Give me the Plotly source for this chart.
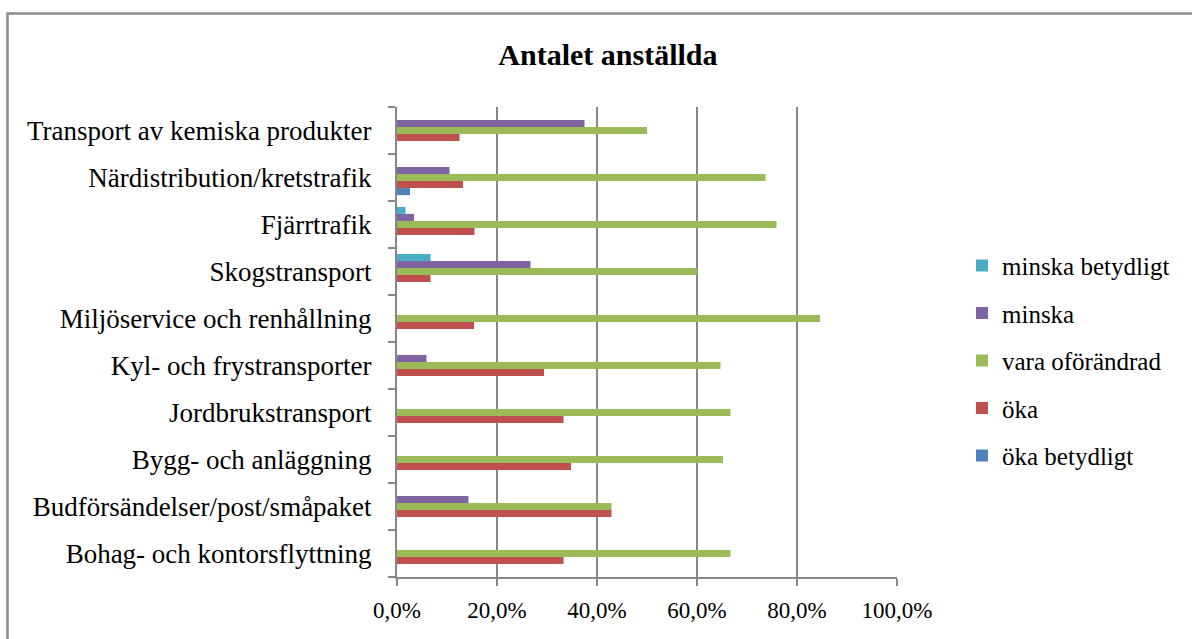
import plotly.graph_objects as go

# categories listed bottom to top (as plotly draws them)
categories = ['Bohag- och kontorsflyttning', 'Budförsändelser/post/småpaket', 'Bygg- och anläggning',
              'Jordbrukstransport', 'Kyl- och frystransporter', 'Miljöservice och renhållning',
              'Skogstransport', 'Fjärrtrafik', 'Närdistribution/kretstrafik', 'Transport av kemiska produkter']

oka_betydligt = [None, None, None, None, None, None, None, None, 0.026, None]
oka = [0.333, 0.429, 0.348, 0.333, 0.294, 0.154, 0.067, 0.155, 0.132, 0.125]
oforandrad = [0.667, 0.429, 0.652, 0.667, 0.647, 0.846, 0.600, 0.759, 0.737, 0.500]
minska = [None, 0.143, None, None, 0.059, None, 0.267, 0.034, 0.105, 0.375]
minska_betydligt = [None, None, None, None, None, None, 0.067, 0.017, None, None]

series = [('öka betydligt', oka_betydligt, '#4F81BD'),
          ('öka', oka, '#C0504D'),
          ('vara oförändrad', oforandrad, '#9BBB59'),
          ('minska', minska, '#8064A2'),
          ('minska betydligt', minska_betydligt, '#4BACC6')]

FONT = 'Liberation Serif'

fig = go.Figure()
for i, (name, vals, col) in enumerate(series):
    fig.add_trace(go.Bar(y=categories, x=vals, name=name, orientation='h',
                         marker=dict(color=col, line=dict(width=0)),
                         legendgroup=name, legendrank=100 - i))

grid = '#878787'
fig.update_layout(
    width=1192, height=639,
    margin=dict(l=397, r=295, t=107, b=62),
    paper_bgcolor='white', plot_bgcolor='white',
    separators=', ',
    barmode='group', bargap=0.25, bargroupgap=0,
    font=dict(family=FONT, color='black'),
    title=dict(text='<b>Antalet anställda</b>', x=0.51, xanchor='center',
               y=0.915, yanchor='middle', font=dict(size=30, family=FONT)),
    legend=dict(x=1.13, xanchor='left', y=0.46, yanchor='middle',
                traceorder='grouped', tracegroupgap=12,
                font=dict(size=25, family=FONT)),
    xaxis=dict(range=[0, 1], tickvals=[0, 0.2, 0.4, 0.6, 0.8, 1.0], tickformat='.1%',
               showgrid=True, gridcolor=grid, gridwidth=2,
               showline=True, linecolor=grid, linewidth=2,
               ticks='outside', ticklen=7, tickcolor=grid, tickwidth=2,
               ticklabelstandoff=4, tickfont=dict(size=23, family=FONT),
               zeroline=False),
    yaxis=dict(type='category', showgrid=False, showline=True, linecolor=grid, linewidth=2,
               ticks='outside', ticklen=7, tickcolor=grid, tickwidth=2,
               tickson='boundaries', ticklabelstandoff=18,
               tickfont=dict(size=27, family=FONT)),
)

# outer chart border (right and bottom edges run off the picture)
fig.add_shape(type='rect', xref='paper', yref='paper',
              x0=(7.5 - 397) / 500, x1=(1210 - 397) / 500,
              y0=(577 - 660) / 470, y1=(577 - 13.5) / 470,
              line=dict(color='#8c8c8c', width=2.5), layer='below')

# drop the default page margin so the figure sits at the window corner
fig.write_html("out.html", config={'displayModeBar': False},
               post_script="document.body.style.margin='0';")
